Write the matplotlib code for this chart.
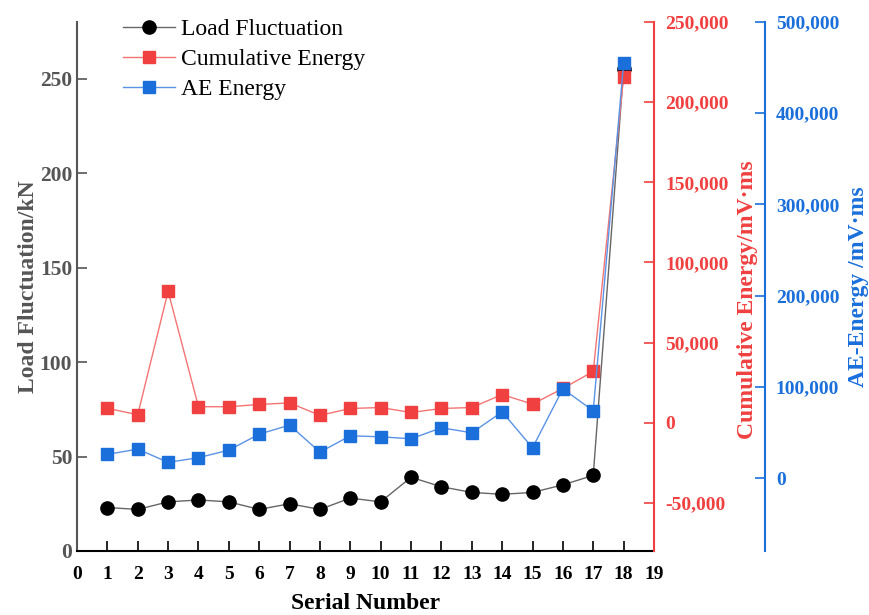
import matplotlib
matplotlib.use("Agg")
import matplotlib.pyplot as plt
from matplotlib.ticker import FuncFormatter, MultipleLocator

serial = list(range(1, 19))
load_kn = [23, 22, 26, 27, 26, 22, 25, 22, 28, 26, 39, 34, 31, 30, 31, 35, 40, 255]
cumulative_energy = [9000, 5000, 82000, 10000, 10000, 11400, 12400, 4600, 8900, 9500,
                     6400, 8900, 9500, 17600, 11600, 21400, 32000, 215500]
ae_energy = [25900, 31700, 17200, 22300, 30600, 48100, 58000, 28400, 46300, 45200,
             43000, 55100, 49600, 72500, 33100, 97800, 73700, 455000]

RED = "#F04040"
BLUE = "#1A6FDB"
GREY = "#555555"

plt.rcParams["font.family"] = ["Liberation Serif", "DejaVu Serif"]

fig = plt.figure(figsize=(8.7, 6.15), dpi=100)
ax = fig.add_axes([0.0885, 0.1041, 0.6632, 0.8601])
ax_red = ax.twinx()
ax_blue = ax.twinx()

# load curve underneath, energy curves stacked above it
ax.set_zorder(1)
ax_red.set_zorder(2)
ax_red.patch.set_visible(False)
ax_blue.set_zorder(3)
ax_blue.patch.set_visible(False)

# Series
h_black, = ax.plot(serial, load_kn, color="#666666", lw=1.0,
                   marker="o", markersize=9.5, markerfacecolor="black", markeredgecolor="black",
                   label="Load Fluctuation")
h_red, = ax_red.plot(serial, cumulative_energy, color="#F47474", lw=1.0,
                     marker="s", markersize=8.5, markerfacecolor=RED, markeredgecolor=RED,
                     label="Cumulative Energy")
h_blue, = ax_blue.plot(serial, ae_energy, color="#5A93E6", lw=1.0,
                       marker="s", markersize=8.5, markerfacecolor=BLUE, markeredgecolor=BLUE,
                       label="AE Energy")

# Main axis
ax.set_xlim(0, 19)
ax.set_ylim(0, 280)
ax.xaxis.set_major_locator(MultipleLocator(1))
ax.yaxis.set_major_locator(MultipleLocator(50))
ax.spines["top"].set_visible(False)
ax.spines["right"].set_visible(False)
ax.spines["left"].set_color(GREY)
ax.spines["left"].set_linewidth(1.5)
ax.spines["bottom"].set_linewidth(1.5)
ax.tick_params(axis="x", direction="in", length=7, width=1.2, labelsize=14, pad=11)
ax.tick_params(axis="y", direction="in", length=7, width=1.2, labelsize=15.5, colors=GREY)
for lab in ax.get_xticklabels() + ax.get_yticklabels():
    lab.set_fontweight("bold")
ax.set_xlabel("Serial Number", fontsize=17, fontweight="bold", labelpad=7)
ax.set_ylabel("Load Fluctuation/kN", fontsize=17, fontweight="bold", color=GREY, labelpad=0.5)

fmt = FuncFormatter(lambda v, p: f"{int(v):,}")

# Cumulative energy axis
ax_red.set_ylim(-80000, 250000)
ax_red.yaxis.set_major_locator(MultipleLocator(50000))
ax_red.yaxis.set_major_formatter(fmt)
for s in ["top", "left", "bottom"]:
    ax_red.spines[s].set_visible(False)
ax_red.spines["right"].set_color(RED)
ax_red.spines["right"].set_linewidth(1.5)
ax_red.tick_params(axis="y", direction="in", length=7, width=1.2, labelsize=14, colors=RED, pad=8)
for lab in ax_red.get_yticklabels():
    lab.set_fontweight("bold")
ax_red.set_ylabel("Cumulative Energy/mV·ms", fontsize=17, fontweight="bold", color=RED, labelpad=6)
ax_red.yaxis.label.set_y(0.475)

# AE energy axis
ax_blue.set_ylim(-80000, 500000)
ax_blue.yaxis.set_major_locator(MultipleLocator(100000))
ax_blue.yaxis.set_major_formatter(fmt)
ax_blue.spines["right"].set_position(("axes", 1.192))
for s in ["top", "left", "bottom"]:
    ax_blue.spines[s].set_visible(False)
ax_blue.spines["right"].set_color(BLUE)
ax_blue.spines["right"].set_linewidth(1.5)
ax_blue.tick_params(axis="y", direction="in", length=7, width=1.2, labelsize=14, colors=BLUE, pad=8)
for lab in ax_blue.get_yticklabels():
    lab.set_fontweight("bold")
ax_blue.set_ylabel("AE-Energy /mV·ms", fontsize=17, fontweight="bold", color=BLUE, labelpad=6)

leg = ax_blue.legend(handles=[h_black, h_red, h_blue], loc="upper left",
                     bbox_to_anchor=(0.1414, 0.970), bbox_transform=fig.transFigure,
                     frameon=False, fontsize=17, handlelength=2.2, handletextpad=0.25,
                     labelspacing=0.36, borderaxespad=0, borderpad=0)

fig.savefig("out.png", dpi=100)
